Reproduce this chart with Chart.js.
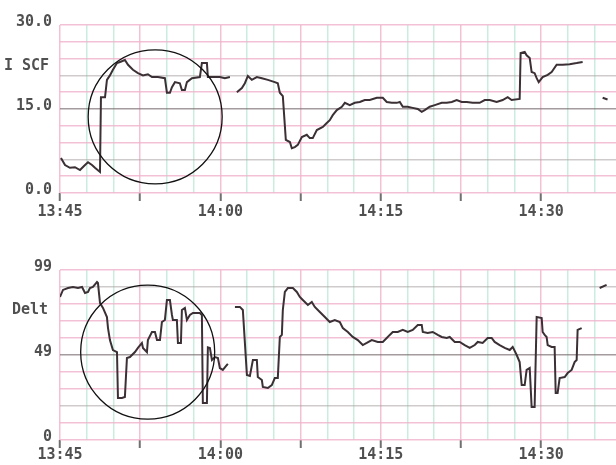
<!DOCTYPE html>
<html>
<head>
<meta charset="utf-8">
<script src="https://cdn.jsdelivr.net/npm/chart.js@4"></script>
<style>
  body { margin: 0; background: #fff; }
  canvas { display: block; filter: blur(0.35px); }
</style>
</head>
<body>
<canvas id="scfChart" width="616" height="232"></canvas>
<canvas id="deltChart" width="616" height="233"></canvas>
<script>
// time is minutes after 13:45, null marks a break in the pen trace
const scfTime = [0.09, 0.47, 0.93, 1.40, 1.87, 2.34, 2.62, 2.99, 3.27, 3.74, 3.83, 4.21, 4.39, 4.67, 4.95, 5.33, 5.61, 6.07, 6.36, 6.82,
  7.29, 7.76, 8.22, 8.60, 9.16, 9.81, 10.0, 10.28, 10.47, 10.75, 11.21, 11.40, 11.68, 11.87, 12.34, 13.08, 13.27, 13.74, 13.83, 14.30,
  14.95, 15.42, 15.89, 16.2,
  16.54, 17.01, 17.29, 17.57, 17.94, 18.41, 18.88, 19.44, 20.09, 20.37, 20.56, 20.84, 21.12, 21.50, 21.68, 21.96, 22.24, 22.62, 23.08, 23.36,
  23.64, 24.02, 24.58, 24.95, 25.23, 25.51, 25.89, 26.36, 26.64, 27.10, 27.57, 28.04, 28.50, 28.97, 29.63, 30.19, 30.56, 31.03, 31.50, 31.78,
  32.06, 32.52, 32.99, 33.46, 33.83, 34.11, 34.58, 35.05, 35.70, 36.17, 36.64, 37.10, 37.57, 38.04, 38.60, 39.25, 39.72, 40.19, 40.84, 41.40,
  41.87, 42.24, 42.99, 43.08, 43.46, 43.64, 43.93, 44.11, 44.39, 44.58, 44.77, 45.14, 45.61, 45.98, 46.45, 47.01, 47.66, 48.32, 48.88, 50.0,
  50.75, 51.21];
const scfValue = [6.25, 5.0, 4.5, 4.6, 4.1, 5.0, 5.5, 5.0, 4.5, 3.75, 17.1, 17.1, 20.2, 21.0, 22.0, 23.2, 23.4, 23.75, 22.9, 22.0,
  21.4, 21.0, 21.2, 20.7, 20.7, 20.5, 17.9, 17.9, 18.9, 19.8, 19.6, 18.4, 18.4, 19.8, 20.5, 20.7, 23.2, 23.2, 20.7, 20.7,
  20.7, 20.5, 20.7, null,
  18.0, 18.75, 19.6, 20.9, 20.2, 20.7, 20.5, 20.2, 19.8, 19.6, 17.9, 17.3, 9.5, 9.1, 8.0, 8.2, 8.6, 10.0, 10.4, 9.8,
  9.8, 11.25, 11.8, 12.5, 13.0, 13.9, 14.8, 15.4, 16.1, 15.7, 16.1, 16.25, 16.6, 16.6, 17.0, 17.0, 16.25, 16.1, 16.1, 16.25,
  15.4, 15.4, 15.2, 15.0, 14.5, 14.8, 15.4, 15.7, 16.1, 16.1, 16.25, 16.6, 16.25, 16.25, 16.1, 16.1, 16.6, 16.6, 16.25, 16.6,
  17.1, 16.6, 16.8, 25.0, 25.2, 24.6, 24.1, 21.6, 21.4, 20.5, 19.8, 20.7, 21.1, 21.6, 22.9, 22.9, 23.0, 23.2, 23.4, null,
  17.0, 16.7];

const deltTime = [0.0, 0.28, 0.75, 1.21, 1.68, 2.06, 2.34, 2.62, 2.80, 3.08, 3.46, 3.55, 3.74, 4.02, 4.39, 4.49, 4.67, 4.95, 5.33, 5.42,
  5.79, 6.07, 6.26, 6.54, 7.01, 7.29, 7.66, 7.76, 8.13, 8.22, 8.60, 8.88, 9.07, 9.35, 9.53, 9.81, 10.0, 10.28, 10.47, 10.56,
  10.93, 11.03, 11.31, 11.40, 11.68, 11.87, 12.15, 12.43, 13.08, 13.27, 13.36, 13.74, 13.83, 14.02, 14.21, 14.49, 14.77, 14.95, 15.23, 15.61,
  15.70, 16.0,
  16.36, 16.82, 17.10, 17.48, 17.76, 18.04, 18.41, 18.50, 18.88, 18.97, 19.44, 19.81, 20.09, 20.37, 20.56, 20.75, 20.84, 21.03, 21.31, 21.78,
  22.15, 22.43, 22.71, 23.18, 23.55, 23.83, 24.30, 24.77, 25.23, 25.70, 26.17, 26.45, 26.92, 27.38, 27.85, 28.32, 28.69, 29.16, 29.72, 30.19,
  30.56, 30.84, 31.12, 31.59, 32.06, 32.52, 32.99, 33.46, 33.83, 33.93, 34.39, 34.86, 35.33, 35.70, 36.17, 36.45, 36.92, 37.38, 37.85, 38.32,
  38.79, 39.07, 39.53, 40.00, 40.37, 40.65, 41.12, 41.59, 42.06, 42.34, 42.71, 42.99, 43.18, 43.46, 43.64, 43.93, 44.11, 44.39, 44.58, 45.05,
  45.14, 45.33, 45.51, 45.61, 45.98, 46.26, 46.36, 46.54, 46.73, 47.20, 47.48, 47.85, 48.13, 48.32, 48.41, 48.79, 49.5,
  50.47, 51.12];
const deltValue = [83.3, 87.4, 88.5, 89.1, 88.5, 89.1, 85.6, 86.2, 88.5, 89.1, 92.0, 91.4, 79.8, 76.9, 71.6, 65.2, 58.2, 52.4, 51.2, 24.5,
  24.5, 25.0, 47.8, 48.3, 51.2, 53.6, 56.5, 53.6, 51.2, 58.2, 62.9, 62.9, 58.2, 58.2, 68.7, 69.9, 81.5, 81.5, 72.8, 69.9,
  69.9, 56.5, 56.5, 75.7, 76.9, 69.9, 72.8, 74.0, 74.0, 72.8, 21.5, 21.5, 54.0, 53.6, 46.6, 48.3, 47.7, 41.9, 40.8, 43.7,
  44.3, null,
  77.5, 77.5, 75.7, 37.9, 37.3, 46.6, 46.6, 36.7, 34.9, 30.9, 30.3, 32.0, 36.1, 36.1, 60.0, 61.2, 75.7, 86.2, 88.5, 88.5,
  86.2, 83.3, 81.5, 78.6, 80.4, 77.5, 74.5, 71.6, 68.7, 69.9, 68.7, 65.2, 62.9, 60.0, 58.2, 55.3, 56.5, 58.2, 57.1, 57.1,
  59.4, 61.2, 62.9, 62.9, 64.1, 62.9, 64.1, 67.0, 67.0, 62.9, 62.3, 62.9, 61.2, 60.0, 59.4, 60.0, 57.1, 57.1, 55.3, 53.6,
  55.3, 57.1, 56.5, 59.4, 59.4, 57.1, 55.3, 53.6, 52.4, 54.2, 49.5, 45.4, 32.0, 32.0, 40.8, 41.9, 19.2, 19.2, 71.6, 71.0,
  62.9, 61.2, 60.0, 55.3, 54.2, 54.2, 27.4, 27.4, 36.1, 36.7, 39.0, 40.8, 45.4, 46.6, 64.1, 65.2, null,
  88.5, 90.3];

const timeLabels = ["13:45", "14:00", "14:15", "14:30"]; // every 15 minutes
const scfTicks = ["0.0", "15.0", "30.0"];
const deltTicks = ["0", "49", "99"];

const PINK = "rgba(240,178,202,0.8)";
const GREEN = "rgba(190,232,215,0.8)";
const GREY = "rgba(125,112,115,0.7)";
const SOFT_GREY = "rgba(170,160,160,0.55)";
const TEXT = "#505050";
const FONT = { family: "'DejaVu Sans Mono', monospace", size: 15, weight: "bold" };

// black ring drawn over the trace, centred on a data point
const ringPlugin = {
  id: "ring",
  afterDatasetsDraw(chart, args, opts) {
    const { ctx, scales } = chart;
    ctx.save();
    ctx.beginPath();
    ctx.arc(scales.x.getPixelForValue(opts.t), scales.y.getPixelForValue(opts.v), opts.r, 0, Math.PI * 2);
    ctx.lineWidth = 1.3;
    ctx.strokeStyle = "#111";
    ctx.stroke();
    ctx.restore();
  }
};

// trace name written at the left edge
const namePlugin = {
  id: "traceName",
  afterDraw(chart, args, opts) {
    const { ctx, scales } = chart;
    ctx.save();
    ctx.font = "bold 15px 'DejaVu Sans Mono', monospace";
    ctx.fillStyle = TEXT;
    ctx.textBaseline = "middle";
    ctx.fillText(opts.text, opts.x, scales.y.getPixelForValue(opts.v));
    ctx.restore();
  }
};

function makeChart(id, times, values, yMax, yLabels, opts) {
  const points = times.map((t, i) => ({ x: t, y: values[i] }));
  return new Chart(document.getElementById(id), {
    type: "line",
    data: {
      datasets: [{
        data: points,
        borderColor: "#3b3035",
        borderWidth: 2,
        pointRadius: 0,
        tension: 0,
        spanGaps: false
      }]
    },
    plugins: [ringPlugin, namePlugin],
    options: {
      responsive: false,
      animation: false,
      layout: { padding: { top: opts.top, right: 0, left: 0, bottom: 0 } },
      plugins: {
        legend: { display: false },
        tooltip: { enabled: false },
        ring: opts.ring,
        traceName: opts.name
      },
      scales: {
        x: {
          type: "linear",
          min: 0,
          max: 52,
          afterBuildTicks: (s) => { s.ticks = Array.from({ length: 21 }, (_, i) => ({ value: i * 2.5 })); },
          afterFit: (s) => { s.height = opts.xHeight; },
          border: { display: false },
          grid: {
            color: (c) => (c.index % 3 === 0 ? PINK : GREEN),
            lineWidth: 1.5,
            tickLength: 8,
            tickWidth: 2,
            tickColor: (c) => (c.index % 3 === 0 ? "#707070" : "rgba(0,0,0,0)")
          },
          ticks: {
            autoSkip: false,
            maxRotation: 0,
            padding: opts.xPad,
            color: TEXT,
            font: FONT,
            callback: (v) => (v % 15 === 0 ? timeLabels[v / 15] : "")
          }
        },
        y: {
          min: 0,
          max: yMax,
          afterBuildTicks: (s) => { s.ticks = Array.from({ length: 11 }, (_, i) => ({ value: i * yMax / 10 })); },
          afterFit: (s) => { s.width = 60; },
          border: { display: false },
          grid: {
            drawTicks: false,
            lineWidth: 1.5,
            color: (c) => (c.index === 5 ? GREY : (opts.greyRows.includes(c.index) ? SOFT_GREY : PINK))
          },
          ticks: {
            autoSkip: false,
            padding: 8,
            color: TEXT,
            font: FONT,
            labelOffset: -3,
            callback: (v, i) => (i % 5 === 0 ? yLabels[i / 5] : "")
          }
        }
      }
    }
  });
}

makeChart("scfChart", scfTime, scfValue, 30, scfTicks, {
  top: 25, xHeight: 39, xPad: 2, greyRows: [2, 7],
  ring: { t: 8.9, v: 13.6, r: 67 },
  name: { text: "I SCF", x: 4, v: 22.6 }
});

makeChart("deltChart", deltTime, deltValue, 99, deltTicks, {
  top: 38, xHeight: 25, xPad: -2, greyRows: [2, 9],
  ring: { t: 8.2, v: 51.2, r: 67 },
  name: { text: "Delt", x: 12, v: 75.5 }
});
</script>
</body>
</html>
